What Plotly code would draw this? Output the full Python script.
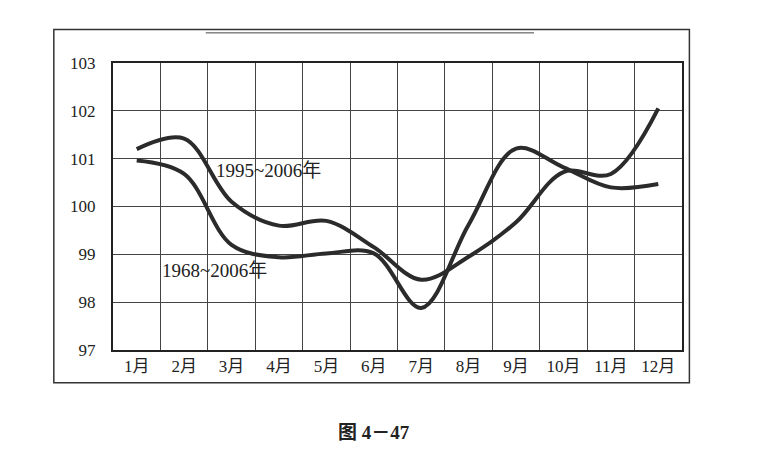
import plotly.graph_objects as go

months = ["1月", "2月", "3月", "4月", "5月", "6月", "7月", "8月", "9月", "10月", "11月", "12月"]
idx_1995_2006 = [101.2, 101.42, 100.1, 99.6, 99.7, 99.15, 98.47, 98.95, 99.67, 100.72, 100.68, 102.05]
idx_1968_2006 = [100.96, 100.68, 99.2, 98.94, 99.02, 99.02, 97.88, 99.62, 101.21, 100.82, 100.4, 100.47]
y_ticks = [97, 98, 99, 100, 101, 102, 103]

serif = "Liberation Serif, Noto Sans CJK SC, serif"
line_col = "#2b2b2b"

fig = go.Figure()
fig.add_trace(go.Scatter(x=months, y=idx_1995_2006, mode="lines", name="1995~2006年",
                         line=dict(color=line_col, width=4, shape="spline", smoothing=1.0)))
fig.add_trace(go.Scatter(x=months, y=idx_1968_2006, mode="lines", name="1968~2006年",
                         line=dict(color=line_col, width=4, shape="spline", smoothing=1.0)))

# curve labels
fig.add_annotation(x=1.64, y=100.76, text="1995~2006年", showarrow=False, xanchor="left",
                   font=dict(family=serif, size=19, color="#222"))
fig.add_annotation(x=0.49, y=98.66, text="1968~2006年", showarrow=False, xanchor="left",
                   font=dict(family=serif, size=19, color="#222"))

# outer frame and top rule
fig.add_shape(type="rect", xref="paper", yref="paper", x0=-0.104, x1=1.013, y0=-0.114, y1=1.117,
              line=dict(color="#333", width=1.5))
fig.add_shape(type="line", xref="paper", yref="paper", x0=0.163, x1=0.74, y0=1.105, y1=1.105,
              line=dict(color="#444", width=1))

# caption
fig.add_annotation(xref="paper", yref="paper", x=0.458, y=-0.331, text="<b>图 4－47</b>",
                   showarrow=False, font=dict(family="Liberation Serif, Noto Sans CJK SC", size=19, color="#222"))

# margins allow for the 8px page offset of the browser body
fig.update_layout(
    width=771, height=475,
    margin=dict(l=105, r=97, t=55, b=133),
    paper_bgcolor="white", plot_bgcolor="white",
    showlegend=False,
    font=dict(family=serif, size=16, color="#222"),
)
fig.update_xaxes(type="category", tickson="boundaries", range=[-0.5, 11.5], automargin=False,
                 showgrid=True, gridcolor="#444", gridwidth=1,
                 showline=True, linecolor="#222", linewidth=2, mirror=True, ticks="",
                 tickfont=dict(family=serif, size=17))
fig.update_yaxes(range=[97, 103], tickvals=y_ticks, automargin=False,
                 showgrid=True, gridcolor="#444", gridwidth=1,
                 showline=True, linecolor="#222", linewidth=2, mirror=True, ticks="",
                 zeroline=False, ticklabelstandoff=12, tickfont=dict(family=serif, size=17))

fig.write_html("out.html")
